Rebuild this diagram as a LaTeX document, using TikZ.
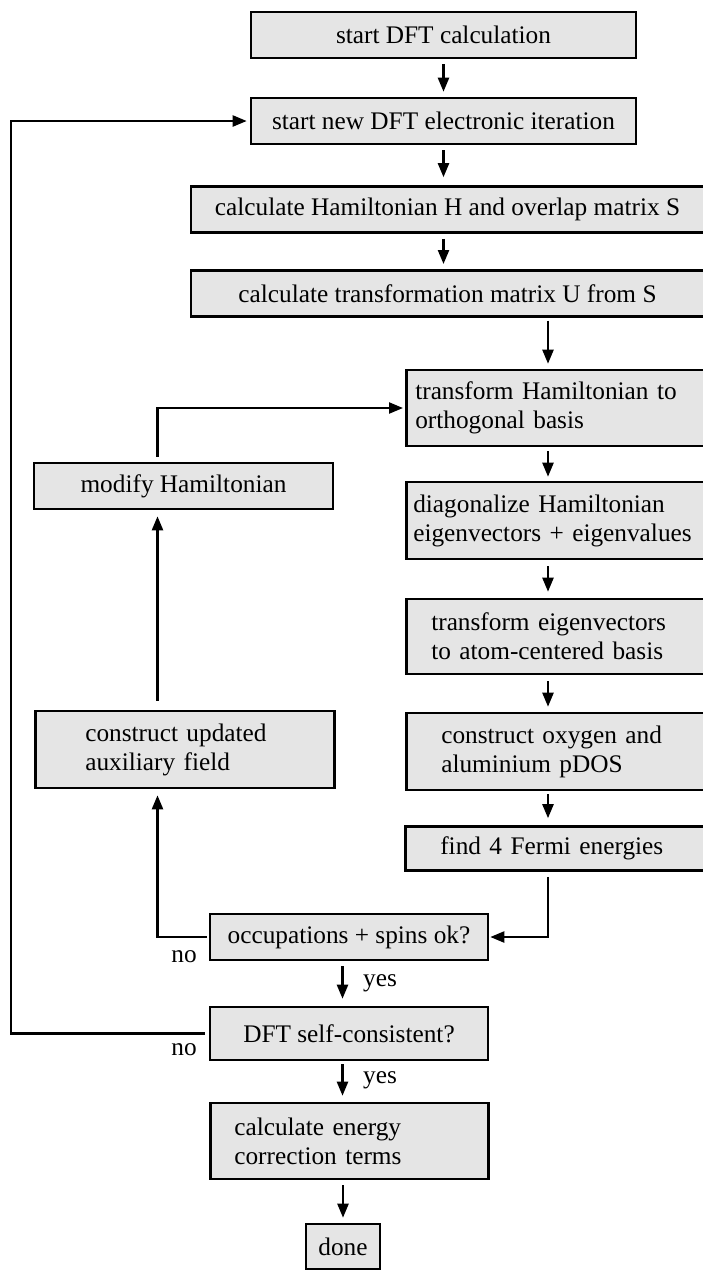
\documentclass[tikz,border=0pt]{standalone}
\usepackage{fontspec}
\setmainfont{Liberation Serif}
\usetikzlibrary{arrows.meta}

\begin{document}
\begin{tikzpicture}[x=1pt, y=-1pt,
  box/.style={draw, line width=2.6pt, fill=gray!20, inner sep=0pt,
    font=\fontsize{25.3}{29}\selectfont},
  lbox/.style={box, anchor=west, align=left},
  flow/.style={line width=2.3pt, shorten <=5pt, shorten >=5pt,
    -{Triangle[length=14pt,width=11pt]}},
  lab/.style={font=\fontsize{25.3}{29}\selectfont}]
\useasboundingbox (0,0) rectangle (702,1270);

% columns for the connectors
\coordinate (rc) at (548,0);
\coordinate (lc) at (157.5,0);
\coordinate (yc) at (342.5,0);
\coordinate (fb) at (11,600);

% main column
\node[box, minimum width=385pt, minimum height=46pt] (start) at (443.5,35) {start DFT calculation};
\node[box, minimum width=385pt, minimum height=46pt] (iter) at (443.5,121) {start new DFT electronic iteration};
\node[box, minimum width=513pt, minimum height=46pt] (hamil) at (447.5,209.5) {calculate Hamiltonian H and overlap matrix S};
\node[box, minimum width=513pt, minimum height=46pt] (trafo) at (447.5,293.3) {calculate transformation matrix U from S};

% right column
\node[lbox, inner xsep=9pt, text width=297pt, minimum height=76pt] (ortho) at (405,408) {transform Hamiltonian to\\orthogonal basis};
\node[lbox, inner xsep=7pt, text width=301pt, minimum height=77pt] (diag) at (405,520.5) {diagonalize Hamiltonian\\eigenvectors + eigenvalues};
\node[lbox, inner xsep=25pt, text width=265pt, minimum height=75pt] (eigvec) at (405,636.5) {transform eigenvectors\\to atom-centered basis};
\node[lbox, inner xsep=35pt, text width=245pt, minimum height=77pt] (pdos) at (405,751.5) {construct oxygen and\\aluminium pDOS};
\node[lbox, inner xsep=35pt, text width=246pt, minimum height=44pt] (fermi) at (404,848.5) {find 4 Fermi energies};

% left column
\node[box, minimum width=299pt, minimum height=46pt] (modify) at (183.5,486) {modify Hamiltonian};
\node[lbox, inner xsep=50pt, text width=199pt, minimum height=77pt] (aux) at (34,749.5) {construct updated\\auxiliary field};

% checks and end
\node[box, minimum width=278pt, minimum height=46pt] (occ) at (349,937) {occupations + spins ok?};
\node[box, minimum width=278pt, minimum height=53pt] (scf) at (349,1033.5) {DFT self-consistent?};
\node[lbox, inner xsep=24pt, text width=230pt, minimum height=76pt] (energy) at (209,1141) {calculate energy\\correction terms};
\node[box, minimum width=74pt, minimum height=45pt] (done) at (343,1246.5) {done};

% labels
\node[lab] (no1) at (184,957) {no};
\node[lab] (no2) at (184,1050) {no};
\node[lab] (yes1) at (380,983) {yes};
\node[lab] (yes2) at (380,1080) {yes};

% arrows
\draw[flow] (start.south) -- (iter.north);
\draw[flow, shorten >=8pt] (iter.south) -- (iter.south |- hamil.north);
\draw[flow] (hamil.south -| iter.south) -- (iter.south |- trafo.north);
\draw[flow, shorten <=3pt] (trafo.south -| rc) -- (ortho.north -| rc);
\draw[flow, shorten <=4pt, shorten >=4pt] (ortho.south -| rc) -- (diag.north -| rc);
\draw[flow, shorten <=6pt, shorten >=6pt] (diag.south -| rc) -- (eigvec.north -| rc);
\draw[flow, shorten <=6pt] (eigvec.south -| rc) -- (pdos.north -| rc);
\draw[flow, shorten <=3pt, shorten >=7pt] (pdos.south -| rc) -- (fermi.north -| rc);
\draw[flow, shorten >=1pt] (fermi.south -| rc) |- (occ.east);
\draw[flow, shorten <=2pt, shorten >=6pt] (occ.west) -| (aux.south -| lc);
\draw[flow, shorten <=9pt, shorten >=6pt] (aux.north -| lc) -- (modify.south -| lc);
\draw[flow, shorten >=2pt] (modify.north -| lc) |- (ortho.west);
\draw[flow, shorten >=7pt] (occ.south -| yc) -- (scf.north -| yc);
\draw[flow, shorten <=4pt, shorten >=3pt] (scf.west) -| (fb) |- (iter.west);
\draw[flow, shorten <=3pt, shorten >=6pt] (scf.south -| yc) -- (energy.north -| yc);
\draw[flow] (energy.south -| done.north) -- (done.north);

\end{tikzpicture}
\end{document}
